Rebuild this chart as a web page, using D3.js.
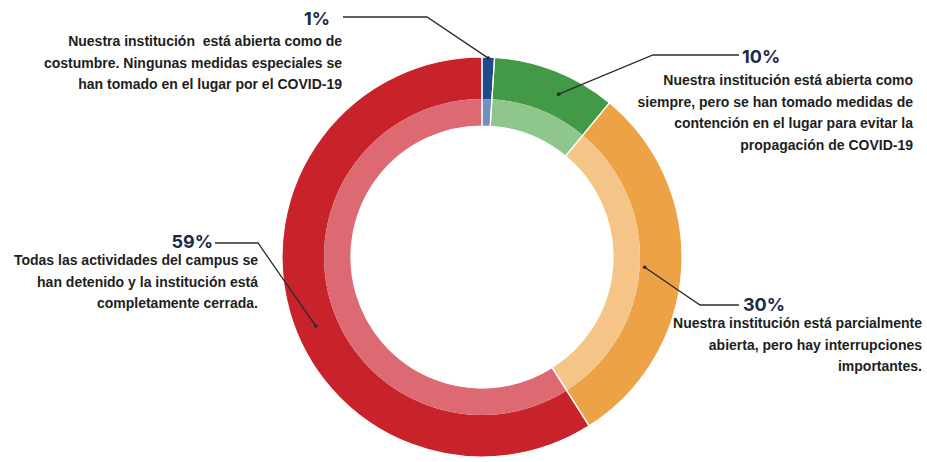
<!DOCTYPE html>
<html>
<head>
<meta charset="utf-8">
<title>Estado de las instituciones - COVID-19</title>
<script src="https://cdn.jsdelivr.net/npm/d3@7"></script>
<style>
  html, body { margin: 0; padding: 0; background: #fff; }
  svg { display: block; }
  .desc { font-family: "Liberation Sans", Arial, sans-serif; font-weight: bold; font-size: 14px; fill: #1e1e1e; white-space: pre; }
  .pct { font-family: Inter, "Open Sans", sans-serif; font-weight: 700; font-size: 18px; fill: #1b2a47; }
  .leader { fill: none; stroke: #2b2b2b; stroke-width: 1.3; }
</style>
</head>
<body>
<script>
// datos
var categorias = ["abierta", "medidas", "parcial", "cerrada"];
var valores = [1, 10, 30, 59];
var etiquetasPct = ["1%", "10%", "30%", "59%"];
var textos = [
  ["Nuestra institución  está abierta como de", "costumbre. Ningunas medidas especiales se", "han tomado en el lugar por el COVID-19"],
  ["Nuestra institución está abierta como", "siempre, pero se han tomado medidas de", "contención en el lugar para evitar la", "propagación de COVID-19"],
  ["Nuestra institución está parcialmente", "abierta, pero hay interrupciones", "importantes."],
  ["Todas las actividades del campus se", "han detenido y la institución está", "completamente cerrada."]
];
var coloresFuertes = ["#1f4a8c", "#439a46", "#eca245", "#c8232b"];
var coloresClaros = ["#7191bf", "#8fc68c", "#f5c588", "#dd6a73"];

var width = 927, height = 462;
var cx = 482, cy = 257;
var rOut = 200, rMid = 158, rIn = 131;

var svg = d3.select("body").append("svg")
  .attr("width", width)
  .attr("height", height);

var pie = d3.pie().sort(null).value(function(d) { return d; });
var arcs = pie(valores);

var g = svg.append("g").attr("transform", "translate(" + cx + "," + cy + ")");

var arcFuerte = d3.arc().innerRadius(rMid).outerRadius(rOut);
var arcClaro = d3.arc().innerRadius(rIn).outerRadius(rMid);

g.selectAll("path.fuerte").data(arcs).enter().append("path")
  .attr("class", "fuerte")
  .attr("d", arcFuerte)
  .attr("fill", function(d, i) { return coloresFuertes[i]; });

g.selectAll("path.claro").data(arcs).enter().append("path")
  .attr("class", "claro")
  .attr("d", arcClaro)
  .attr("fill", function(d, i) { return coloresClaros[i]; });

// separadores blancos entre porciones
g.selectAll("path.sep").data(arcs).enter().append("path")
  .attr("class", "sep")
  .attr("d", d3.arc().innerRadius(rIn).outerRadius(rOut))
  .attr("fill", "none")
  .attr("stroke", "#fff")
  .attr("stroke-width", 1.2);

// anotaciones: donde cae la linea en la porcion, codo y posicion del texto
var anot = [
  { frac: 0.5, r: 199, codo: [427, 17], ini: [343, 17], pct: [330, 25, "end"], txt: [342, 46, "end"] },
  { frac: 0.6, r: 180, codo: [653, 55], ini: [739, 55], pct: [742, 63, "start"], txt: [913, 85, "end"] },
  { frac: 0.5, r: 163, codo: [700, 305], ini: [739, 305], pct: [743, 311, "start"], txt: [922, 328, "end"] },
  { frac: 0.47, r: 180, codo: [258, 243], ini: [215, 243], pct: [213, 248, "end"], txt: [258, 265, "end"] }
];

function ancla(a, i) {
  var d = arcs[i];
  var ang = d.startAngle + (d.endAngle - d.startAngle) * a.frac;
  return [cx + a.r * Math.sin(ang), cy - a.r * Math.cos(ang)];
}

anot.forEach(function(a, i) {
  var p = ancla(a, i);
  svg.append("path")
    .attr("class", "leader")
    .attr("d", d3.line()([a.ini, a.codo, p]));
  svg.append("circle")
    .attr("cx", p[0]).attr("cy", p[1]).attr("r", 1.8)
    .attr("fill", "#2b2b2b");

  svg.append("text")
    .attr("class", "pct")
    .attr("x", a.pct[0]).attr("y", a.pct[1])
    .attr("text-anchor", a.pct[2])
    .text(etiquetasPct[i]);

  var t = svg.append("text")
    .attr("class", "desc")
    .attr("text-anchor", a.txt[2]);
  textos[i].forEach(function(linea, k) {
    t.append("tspan")
      .attr("x", a.txt[0])
      .attr("y", a.txt[1] + k * 21.5)
      .text(linea);
  });
});
</script>
</body>
</html>
